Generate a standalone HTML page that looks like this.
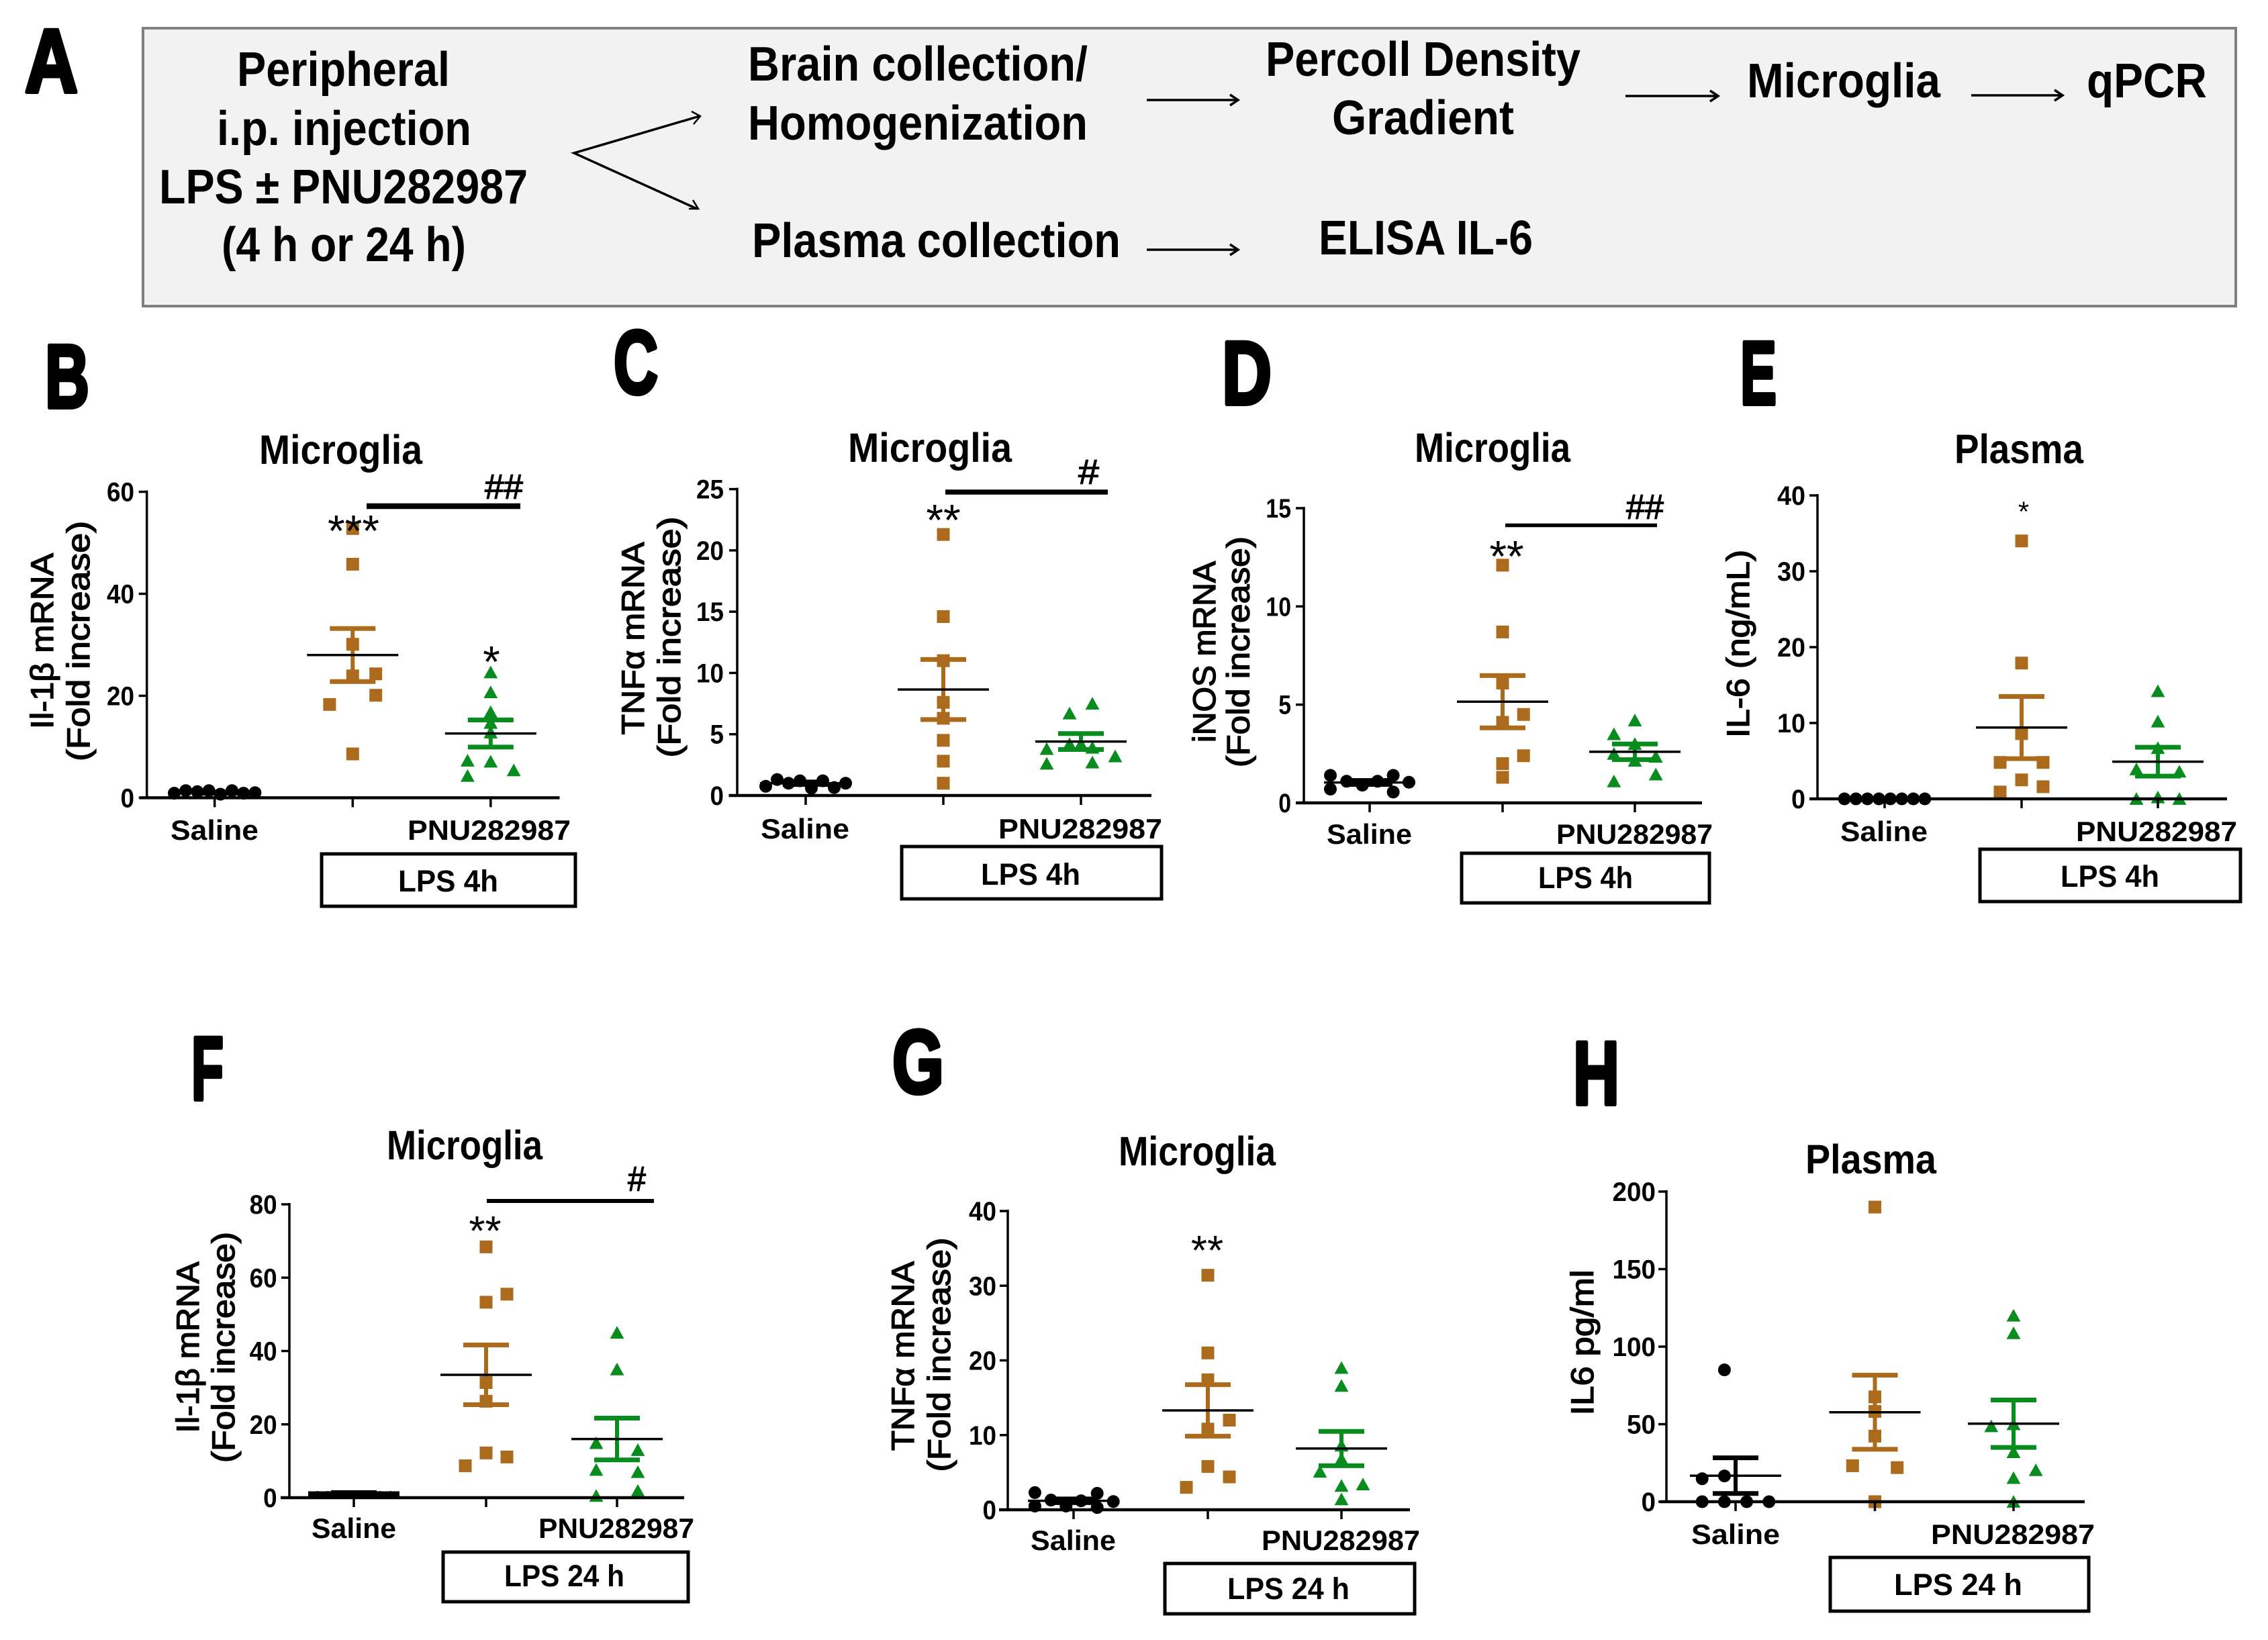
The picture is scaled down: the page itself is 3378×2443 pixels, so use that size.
<!DOCTYPE html>
<html lang="en">
<head>
<meta charset="utf-8">
<title>LPS and PNU282987 cytokine figure</title>
<style>
html,body{margin:0;padding:0;background:#fff;}
svg{display:block;}
text{font-family:"Liberation Sans",sans-serif;fill:#000;}
.b{font-weight:bold;}
.letter{font-weight:bold;stroke:#000;stroke-width:6px;stroke-linejoin:round;}
</style>
</head>
<body>
<svg id="figure" xmlns="http://www.w3.org/2000/svg" width="3378" height="2443" viewBox="0 0 3378 2443">
<rect x="0" y="0" width="3378" height="2443" fill="#fff"/>
<g id="panel-a">
<rect x="213" y="42" width="3117" height="414" fill="#f2f2f2" stroke="#808080" stroke-width="4"/>
<text class="letter" x="37" y="137" font-size="134" textLength="79" lengthAdjust="spacingAndGlyphs">A</text>
<text class="b" x="353" y="128" font-size="72" textLength="317" lengthAdjust="spacingAndGlyphs">Peripheral</text>
<text class="b" x="323" y="216" font-size="72" textLength="379" lengthAdjust="spacingAndGlyphs">i.p. injection</text>
<text class="b" x="237" y="303" font-size="72" textLength="549" lengthAdjust="spacingAndGlyphs">LPS ± PNU282987</text>
<text class="b" x="330" y="389" font-size="72" textLength="364" lengthAdjust="spacingAndGlyphs">(4 h or 24 h)</text>
<text class="b" x="1114" y="120" font-size="72" textLength="506" lengthAdjust="spacingAndGlyphs">Brain collection/</text>
<text class="b" x="1114" y="208" font-size="72" textLength="506" lengthAdjust="spacingAndGlyphs">Homogenization</text>
<text class="b" x="1120" y="383" font-size="72" textLength="549" lengthAdjust="spacingAndGlyphs">Plasma collection</text>
<text class="b" x="1885" y="113" font-size="72" textLength="469" lengthAdjust="spacingAndGlyphs">Percoll Density</text>
<text class="b" x="1984" y="200" font-size="72" textLength="271" lengthAdjust="spacingAndGlyphs">Gradient</text>
<text class="b" x="1964" y="379" font-size="72" textLength="319" lengthAdjust="spacingAndGlyphs">ELISA IL-6</text>
<text class="b" x="2602" y="145" font-size="72" textLength="288" lengthAdjust="spacingAndGlyphs">Microglia</text>
<text class="b" x="3108" y="145" font-size="72" textLength="179" lengthAdjust="spacingAndGlyphs">qPCR</text>
<g fill="none" stroke="#000" stroke-width="3.5">
<polyline points="1042,173 855,228 1038,311"/>
<polyline points="1030,166 1043,173 1033,185" stroke-width="2.5"/>
<polyline points="1032,298 1040,311 1026,311" stroke-width="2.5"/>
<path d="M1708 149H1841M1832 141L1844 149L1832 157"/>
<path d="M1708 372H1841M1832 364L1844 372L1832 380"/>
<path d="M2421 143H2556M2547 135L2559 143L2547 151"/>
<path d="M2936 142H3069M3060 134L3072 142L3060 150"/>
</g>
</g>
<g id="charts"></g>
</svg>
<script>
const groupLabels = ['Saline', '', 'PNU282987'];

const bTicks = [0, 20, 40, 60];
const bSaline = [0.9, 1.4, 1.2, 1.4, 0.7, 1.4, 0.9, 1.0];
const bSalineSlots = [-3.5, -2.5, -1.5, -0.5, 0.5, 1.5, 2.5, 3.5];
const bLps = [52.8, 45.8, 30.1, 23.9, 24.3, 20.1, 18.3, 8.6];
const bLpsSlots = [0, 0, 0, 0, 2, 2, -2, 0];
const bPnu = [24.6, 20.7, 16.8, 14.7, 12.8, 7.3, 7.1, 5.4, 4.3];
const bPnuSlots = [0, 0, 0, 0, 0, -2, 0, 2, -2];
const bMeans = [1, 28, 12.6];
const bSems = [0.1, 5.2, 2.65];

const cTicks = [0, 5, 10, 15, 20, 25];
const cSaline = [0.75, 1.3, 1.0, 1.2, 0.6, 1.2, 0.65, 1.0];
const cSalineSlots = [-3.5, -2.5, -1.5, -0.5, 0.5, 1.5, 2.5, 3.5];
const cLps = [21.3, 14.6, 11.0, 7.6, 6.3, 4.5, 2.8, 1.0];
const cLpsSlots = [0, 0, 0, 0, 0, 0, 0, 0];
const cPnu = [7.5, 6.7, 4.2, 4.2, 3.9, 3.8, 3.2, 2.7, 2.6];
const cPnuSlots = [1, -1, 0, -1, 1, -3, 3, 1, -3];
const cMeans = [1, 8.65, 4.4];
const cSems = [0.1, 2.45, 0.65];

const dTicks = [0, 5, 10, 15];
const dSaline = [1.4, 0.7, 1.1, 0.9, 1.1, 1.4, 0.55, 1.05];
const dSalineSlots = [-3.75, -3.75, -2.2, -0.7, 0.75, 2.25, 2.25, 3.75];
const dLps = [12.1, 8.7, 6.1, 4.1, 4.5, 2.0, 2.4, 1.3];
const dLpsSlots = [0, 0, 0, 0, 2, 0, 2, 0];
const dPnu = [4.2, 3.5, 3.0, 2.5, 2.35, 2.15, 1.45, 1.1];
const dPnuSlots = [0, -2, 0, -2, 2, 0, 2, -2];
const dMeans = [1.04, 5.15, 2.6];
const dSems = [0.1, 1.33, 0.4];

const eTicks = [0, 10, 20, 30, 40];
const eSaline = [0, 0, 0, 0, 0, 0, 0, 0];
const eSalineSlots = [-3.5, -2.5, -1.5, -0.5, 0.5, 1.5, 2.5, 3.5];
const eLps = [34, 17.9, 8.6, 4.8, 4.8, 2.5, 1.6, 0.9];
const eLpsSlots = [0, 0, 0, -1.87, 1.87, 0, 1.87, -1.87];
const ePnu = [14.2, 10.2, 6.7, 3.9, 3.6, 0, 0.2, 0];
const ePnuSlots = [0, 0, 0, -1.87, 1.87, -1.87, 0, 1.87];
const eMeans = [0, 9.4, 4.9];
const eSems = [0, 4.1, 1.9];

const fTicks = [0, 20, 40, 60, 80];
const fSaline = [1, 1, 1, 1, 1, 1, 1, 1];
const fSalineSlots = [-3.5, -2.5, -1.5, -0.5, 0.5, 1.5, 2.5, 3.5];
const fLps = [68.4, 55.5, 53.3, 31.4, 26.3, 12.2, 11.1, 8.7];
const fLpsSlots = [0, 2, 0, 0, 0, 0, 2, -2];
const fPnu = [45, 35, 14.9, 13, 7.6, 7, 1.9, 0.5];
const fPnuSlots = [0, 0, -2, 2, -2, 2, 2, -2];
const fMeans = [1, 33.5, 16];
const fSems = [0.4, 8.15, 5.7];

const gTicks = [0, 10, 20, 30, 40];
const gSaline = [2.3, 0.5, 1.3, 0.5, 1.2, 2.2, 0.3, 1.1];
const gSalineSlots = [-3.6, -3.6, -2.1, -0.7, 0.7, 2.2, 2.2, 3.7];
const gLps = [31.4, 21, 17.4, 10.8, 12, 5.8, 4.4, 3];
const gLpsSlots = [0, 0, 0, 0, 2, 0, 2, -2];
const gPnu = [19, 16.6, 8.6, 6.8, 5.1, 3.4, 3.2, 1.4];
const gPnuSlots = [0, 0, 0, 0, -2, 2, 0, 0];
const gMeans = [1.2, 13.3, 8.2];
const gSems = [0.25, 3.45, 2.3];

const hTicks = [0, 50, 100, 150, 200];
const hSaline = [85, 14.8, 16.6, 0, 0, 0, 0];
const hSalineSlots = [-1, -3, -1, -3, -1, 1, 3];
const hLps = [190, 67.6, 58.2, 42.3, 23.2, 22, 0];
const hLpsSlots = [0, 0, 0, 0, -2, 2, 0];
const hPnu = [120, 108.7, 48.7, 50, 32, 20.4, 15.3, 0];
const hPnuSlots = [0, 0, -2, 0, 0, 2, 0, 0];
const hMeans = [16.8, 57.7, 50.3];
const hSems = [11.5, 23.9, 15.3];

const colorSaline = '#000000';
const colorLps = '#ab6a1c';
const colorPnu = '#088c1e';

const panels = [
  {id:'b', letter:'B', letterBox:[67,133,607], title:'Microglia', titleBox:[386,629,691],
   axisX:218.7, y0:1188.4, yTop:732.6, xLeft:208, xRight:833.5, cats:[319.7,525.3,730.8], step:17.2,
   labelRight:200, charW:20.5, ylabels:[['Il-1β mRNA',79,955,262],['(Fold increase)',133,955,358]],
   saline:[254,385,1251], pnu:[607,850,1251], box:[479,1272,857,1350], boxText:['LPS 4h',593,742,1328],
   bar:[546,775,754,8.5], hash:['##',722,779,743], stars:[['***',526.5,775,66],['*',732,970,66]],
   ticks:bTicks, data:[bSaline,bLps,bPnu], slots:[bSalineSlots,bLpsSlots,bPnuSlots], means:bMeans, sems:bSems},
  {id:'c', letter:'C', letterBox:[914,980,586], title:'Microglia', titleBox:[1263,1507,688],
   axisX:1098, y0:1185, yTop:728.6, xLeft:1085.5, xRight:1715, cats:[1200,1405,1610], step:17,
   labelRight:1078, charW:20.5, ylabels:[['TNFα mRNA',959,951,287],['(Fold increase)',1013,949,359]],
   saline:[1133,1265,1249], pnu:[1487,1731,1249], box:[1343,1261,1730,1339], boxText:['LPS 4h',1461,1609,1318],
   bar:[1408,1650,733,7.5], hash:['#',1606,1637,721], stars:[['**',1405,759,66]],
   ticks:cTicks, data:[cSaline,cLps,cPnu], slots:[cSalineSlots,cLpsSlots,cPnuSlots], means:cMeans, sems:cSems},
  {id:'d', letter:'D', letterBox:[1820,1894,602], title:'Microglia', titleBox:[2107,2339,688],
   axisX:1942, y0:1196, yTop:757, xLeft:1930, xRight:2535, cats:[2040,2238,2435], step:15.6,
   labelRight:1923, charW:18.8, ylabels:[['iNOS mRNA',1810,971,270],['(Fold increase)',1860.5,971,344]],
   saline:[1976,2103,1257], pnu:[2318,2551,1257], box:[2177,1271,2546,1345], boxText:['LPS 4h',2291,2432,1323],
   bar:[2242,2468,782.5,5.5], hash:['##',2422,2478,773], stars:[['**',2244,813,66]],
   ticks:dTicks, data:[dSaline,dLps,dPnu], slots:[dSalineSlots,dLpsSlots,dPnuSlots], means:dMeans, sems:dSems},
  {id:'e', letter:'E', letterBox:[2592,2646,602], title:'Plasma', titleBox:[2911,3103,690],
   axisX:2707, y0:1190, yTop:738, xLeft:2695, xRight:3317, cats:[2807,3011,3214], step:17.1,
   labelRight:2689, charW:21, ylabels:[['IL-6 (ng/mL)',2605,959,280]],
   saline:[2741,2871,1253], pnu:[3092,3332,1253], box:[2949,1265,3337,1343], boxText:['LPS 4h',3069,3216,1321],
   stars:[['*',3014,752,42]],
   ticks:eTicks, data:[eSaline,eLps,ePnu], slots:[eSalineSlots,eLpsSlots,ePnuSlots], means:eMeans, sems:eSems},
  {id:'f', letter:'F', letterBox:[285,333,1638], title:'Microglia', titleBox:[576,808,1727],
   axisX:431, y0:2231, yTop:1794, xLeft:418, xRight:1019, cats:[527,724,919], step:15.5,
   labelRight:412.6, charW:20.5, ylabels:[['Il-1β mRNA',296,2007,255],['(Fold increase)',349,2007,344]],
   saline:[464,590,2291], pnu:[802,1034,2291], box:[660,2312,1025,2386], boxText:['LPS 24 h',751,930,2363],
   bar:[725,974,1789,6], hash:['#',935,962,1774], stars:[['**',722.5,1819,62]], salineSize:9, salineMeanW:8,
   ticks:fTicks, data:[fSaline,fLps,fPnu], slots:[fSalineSlots,fLpsSlots,fPnuSlots], means:fMeans, sems:fSems},
  {id:'g', letter:'G', letterBox:[1329,1406,1628], title:'Microglia', titleBox:[1666,1900,1736],
   axisX:1501, y0:2249, yTop:1804, xLeft:1488, xRight:2100, cats:[1599,1799,1998], step:16,
   labelRight:1484, charW:20.5, ylabels:[['TNFα mRNA',1361,2020,282],['(Fold increase)',1415,2018,349]],
   saline:[1535,1662,2309], pnu:[1879,2115,2309], box:[1735,2329,2107,2404], boxText:['LPS 24 h',1828,2010,2382],
   stars:[['**',1798,1848,62]],
   ticks:gTicks, data:[gSaline,gLps,gPnu], slots:[gSalineSlots,gLpsSlots,gPnuSlots], means:gMeans, sems:gSems},
  {id:'h', letter:'H', letterBox:[2343,2412,1645], title:'Plasma', titleBox:[2689,2884,1748],
   axisX:2482, y0:2237, yTop:1775, xLeft:2472, xRight:3105, cats:[2585,2792.5,2999], step:16.6,
   labelRight:2466, charW:21.5, ylabels:[['IL6 pg/ml',2373,2000,217]],
   saline:[2519,2651,2300], pnu:[2876,3120,2300], box:[2726,2320,3111,2400], boxText:['LPS 24 h',2821,3012,2376],
   stars:[],
   ticks:hTicks, data:[hSaline,hLps,hPnu], slots:[hSalineSlots,hLpsSlots,hPnuSlots], means:hMeans, sems:hSems}
];

const NS = 'http://www.w3.org/2000/svg';
const chartsRoot = document.getElementById('charts');

function make(tag, parent, name, attrs) {
  const el = document.createElementNS(NS, tag);
  
  
  for (const k in attrs) el.setAttribute(k, attrs[k]);
  parent.appendChild(el);
  return el;
}
function line(parent, name, x1, y1, x2, y2, color, w) {
  return make('line', parent, name, {x1:x1, y1:y1, x2:x2, y2:y2, stroke:color, 'stroke-width':w});
}
function fitText(parent, name, str, x1, x2, baseline, size, cls) {
  const el = make('text', parent, name, {x:x1, y:baseline, 'font-size':size, textLength:x2-x1, lengthAdjust:'spacingAndGlyphs'});
  if (cls) el.setAttribute('class', cls);
  el.textContent = str;
  return el;
}
function drawMarker(parent, name, kind, cx, cy, size, color) {
  const r = size / 2;
  if (kind === 0) {
    make('circle', parent, name, {cx:cx, cy:cy, r:r, fill:color});
  } else if (kind === 1) {
    make('rect', parent, name, {x:cx-r, y:cy-r, width:size, height:size, fill:color});
  } else {
    const rt = r * 1.1;
    make('polygon', parent, name, {points:(cx-rt)+','+(cy+rt*0.85)+' '+(cx+rt)+','+(cy+rt*0.85)+' '+cx+','+(cy-rt*0.95), fill:color});
  }
}

panels.forEach(function (p) {
  const g = make('g', chartsRoot, 'panel-' + p.id, {});
  const yMax = p.ticks[p.ticks.length - 1];
  const yScale = function (v) { return p.y0 - (v / yMax) * (p.y0 - p.yTop); };
  const xScale = function (group, slot) { return p.cats[group] + slot * p.step; };

  fitText(g, 'panel-letter-' + p.id, p.letter, p.letterBox[0], p.letterBox[1], p.letterBox[2], 134, 'letter');
  fitText(g, 'panel-title-' + p.id, p.title, p.titleBox[0], p.titleBox[1], p.titleBox[2], 61, 'b');

  p.ylabels.forEach(function (l, i) {
    const t = make('text', g, 'y-axis-title-' + p.id + '-' + i, {
      x:l[1], y:l[2], 'text-anchor':'middle', 'font-size':47, textLength:l[3], lengthAdjust:'spacingAndGlyphs',
      stroke:'#000', 'stroke-width':1.4,
      transform:'rotate(-90 ' + l[1] + ' ' + l[2] + ')'
    });
    t.textContent = l[0];
  });

  const markers = make('g', g, 'data-points-' + p.id, {});
  const kinds = [0, 1, 2];
  const colors = [colorSaline, colorLps, colorPnu];
  const groupNames = ['saline', 'lps', 'pnu'];
  p.data.forEach(function (series, gi) {
    const size = (gi === 0 && p.salineSize) ? p.salineSize : 19;
    series.forEach(function (v, i) {
      drawMarker(markers, 'point-' + groupNames[gi], kinds[gi], xScale(gi, p.slots[gi][i]), yScale(v), size, colors[gi]);
    });
  });

  p.means.forEach(function (m, gi) {
    const cx = p.cats[gi];
    const s = p.sems[gi];
    const yHi = yScale(m + s);
    const yLo = yScale(m - s);
    const meanW = (gi === 0 && p.salineMeanW) ? p.salineMeanW : 3.5;
    line(g, 'error-stem-' + groupNames[gi], cx, yHi, cx, yLo, colors[gi], 6);
    line(g, 'error-cap-top-' + groupNames[gi], cx - 34, yHi, cx + 34, yHi, colors[gi], 7);
    line(g, 'error-cap-bottom-' + groupNames[gi], cx - 34, yLo, cx + 34, yLo, colors[gi], 7);
    line(g, 'mean-line-' + groupNames[gi], cx - 68, yScale(m), cx + 68, yScale(m), '#000', meanW);
  });

  line(g, 'y-axis-' + p.id, p.axisX, p.yTop - 2, p.axisX, p.y0 + 2, '#000', 3.5);
  line(g, 'x-axis-' + p.id, p.xLeft, p.y0, p.xRight, p.y0, '#000', 4.5);
  p.ticks.forEach(function (tv) {
    const y = yScale(tv);
    line(g, 'y-tick-' + tv, p.axisX - 12, y, p.axisX, y, '#000', 3.5);
    const str = String(tv);
    const w = str.length * p.charW;
    fitText(g, 'y-tick-label-' + tv, str, p.labelRight - w, p.labelRight, y + 14, 40, 'b');
  });
  p.cats.forEach(function (cx, gi) {
    line(g, 'x-tick-' + groupNames[gi], cx, p.y0, cx, p.y0 + 14, '#000', 3.5);
  });

  fitText(g, 'x-label-saline-' + p.id, groupLabels[0], p.saline[0], p.saline[1], p.saline[2], 42, 'b');
  fitText(g, 'x-label-pnu-' + p.id, groupLabels[2], p.pnu[0], p.pnu[1], p.pnu[2], 42, 'b');

  make('rect', g, 'treatment-box-' + p.id, {x:p.box[0], y:p.box[1], width:p.box[2]-p.box[0], height:p.box[3]-p.box[1], fill:'#fff', stroke:'#000', 'stroke-width':5});
  fitText(g, 'treatment-label-' + p.id, p.boxText[0], p.boxText[1], p.boxText[2], p.boxText[3], 45, 'b');

  if (p.bar) line(g, 'significance-bar-' + p.id, p.bar[0], p.bar[2], p.bar[1], p.bar[2], '#000', p.bar[3]);
  if (p.hash) {
    const h = fitText(g, 'significance-hash-' + p.id, p.hash[0], p.hash[1], p.hash[2], p.hash[3], 52, '');
    h.setAttribute('stroke', '#000');
    h.setAttribute('stroke-width', '1.2');
  }
  p.stars.forEach(function (s, i) {
    const t = make('text', g, 'significance-stars-' + p.id + '-' + i, {x:s[1], y:s[2] + 0.58 * s[3], 'text-anchor':'middle', 'font-size':s[3]});
    t.textContent = s[0];
  });
});
</script>
</body>
</html>
